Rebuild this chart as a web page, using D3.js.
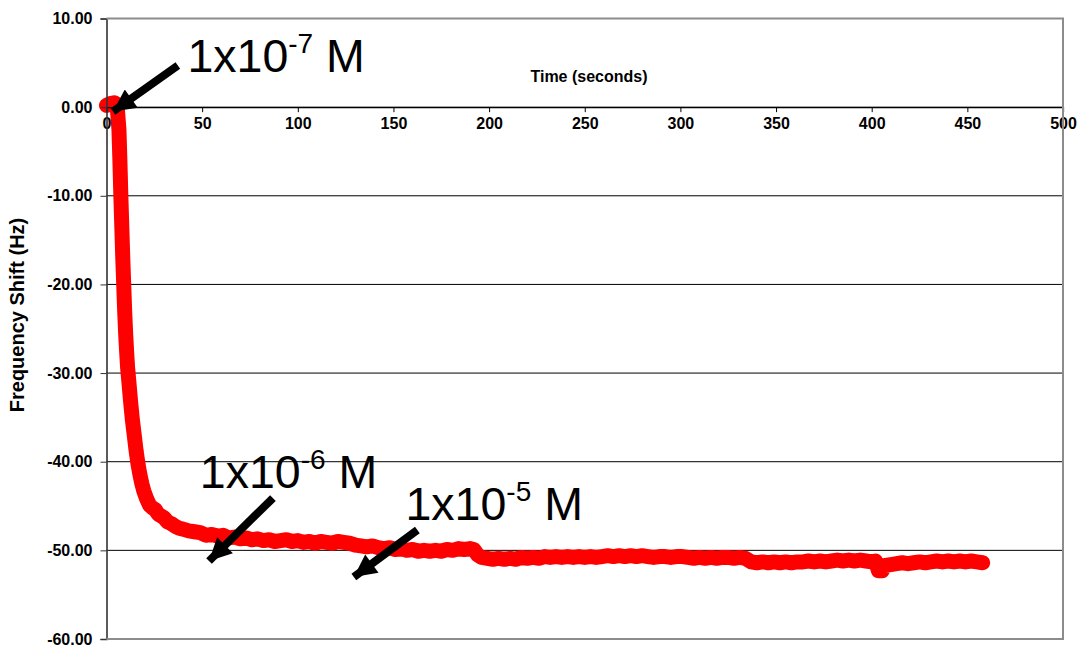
<!DOCTYPE html>
<html>
<head>
<meta charset="utf-8">
<script src="https://d3js.org/d3.v7.min.js"></script>
<style>
  html, body { margin: 0; padding: 0; background: #fff; }
  svg { display: block; font-family: "Liberation Sans", Arial, sans-serif; }
</style>
</head>
<body>
<svg id="chart" width="1079" height="646"></svg>
<script>
// ---- data ----
const timeSeconds = [
  0,2,4,5.5,6.5,7,7.5,8,8.5,9,
  9.5,10,10.5,11,11.7,12.5,13.5,14.5,15.5,16.5,
  17.5,18.5,19.5,21,22.5,24,25.5,27,28.5,30,
  32,34,36,38,40,43,46,
  49,52,55,58,61,64,67,70,73,76,
  79,82,85,88,91,94,97,100,103,106,
  109,112,115,118,121,124,127,130,133,136,
  139,142,145,148,151,154,157,160,163,166,
  169,172,175,178,181,184,187,190,192,194,
  196,199,202,205,208,211,214,217,220,223,
  226,229,232,235,238,241,244,247,250,253,
  256,259,262,265,268,271,274,277,280,283,
  286,289,292,295,298,301,304,307,310,313,
  316,319,322,325,328,331,334,337,340,343,
  346,349,352,355,358,361,364,367,370,373,
  376,379,382,385,388,391,394,397,400,402,
  403.5,405.5,407,410,413,416,419,422,425,428,
  431,434,437,440,443,446,449,452,455,458
];
const frequencyShift = [
  0.2,0.4,0.5,0.3,-2.5,-6,-10,-13.5,-17,-20,
  -23,-25.5,-27.5,-29.3,-31,-33,-35.2,-37,-38.8,-40.3,
  -41.5,-42.5,-43.3,-44.2,-44.9,-45.2,-45.4,-45.9,-46.1,-46.3,
  -46.8,-47.0,-47.3,-47.5,-47.6,-47.8,-47.9,
  -48.0,-48.3,-48.2,-48.4,-48.3,-48.6,-48.5,-48.7,-48.6,-48.8,
  -48.7,-48.9,-48.8,-49.0,-48.9,-48.8,-49.0,-48.9,-49.1,-49.0,
  -49.2,-49.0,-49.1,-49.2,-49.0,-49.1,-49.2,-49.4,-49.5,-49.6,
  -49.5,-49.7,-49.8,-49.7,-49.9,-49.8,-50.0,-49.9,-50.1,-50.0,
  -50.1,-50.0,-50.1,-49.9,-50.0,-49.8,-49.9,-49.8,-49.9,-50.5,
  -50.8,-50.9,-51.0,-50.9,-51.0,-50.9,-51.0,-50.8,-50.9,-50.8,
  -50.9,-50.7,-50.8,-50.7,-50.8,-50.7,-50.8,-50.7,-50.8,-50.7,
  -50.8,-50.7,-50.6,-50.7,-50.6,-50.7,-50.6,-50.7,-50.6,-50.7,
  -50.8,-50.7,-50.7,-50.8,-50.7,-50.7,-50.8,-50.9,-50.8,-50.9,
  -50.8,-50.9,-50.8,-50.8,-50.9,-50.8,-50.9,-51.3,-51.4,-51.3,
  -51.4,-51.3,-51.4,-51.3,-51.4,-51.3,-51.3,-51.2,-51.3,-51.2,
  -51.3,-51.2,-51.1,-51.2,-51.1,-51.2,-51.1,-51.2,-51.3,-51.2,
  -52.3,-52.3,-51.7,-51.6,-51.5,-51.4,-51.5,-51.4,-51.3,-51.4,
  -51.3,-51.2,-51.3,-51.2,-51.3,-51.2,-51.3,-51.2,-51.3,-51.4
];
const xTicks = [0,50,100,150,200,250,300,350,400,450,500];
const yTicks = [10,0,-10,-20,-30,-40,-50,-60];
const xTitle = "Time (seconds)";
const yTitle = "Frequency Shift (Hz)";
// annotations: label base, exponent, text anchor (data units), arrow tail & tip (data units)
const annLabels = ["1x10", "1x10", "1x10"];
const annExponents = ["-7", "-6", "-5"];
const annTextPos = [[42.3, 3.95], [48.8, -43], [156.3, -46.6]];
const annArrowTail = [[37.3, 4.7], [87, -44.1], [162.5, -47.7]];
const annArrowTip = [[3.4, -0.5], [53.6, -51.2], [129.3, -53.0]];

// ---- layout ----
const svg = d3.select("#chart");
const L = 106.5, R = 1063, T = 18.5, B = 639;
const x = d3.scaleLinear().domain([0, 500]).range([L, R]);
const y = d3.scaleLinear().domain([-60, 10]).range([B, T]);

// gridlines (black)
svg.append("g").selectAll("line").data(yTicks.filter(d => d !== 10 && d !== -60)).join("line")
  .attr("x1", L).attr("x2", R).attr("y1", d => y(d)).attr("y2", d => y(d))
  .attr("stroke", "#000").attr("stroke-width", 1);

// red curve
const n = Math.min(timeSeconds.length, frequencyShift.length);
const pts = d3.range(n).map(i => [timeSeconds[i], frequencyShift[i]]);
svg.append("path").datum(pts)
  .attr("d", d3.line().x(d => x(d[0])).y(d => y(d[1])))
  .attr("fill", "none").attr("stroke", "#ff0000").attr("stroke-width", 15)
  .attr("stroke-linejoin", "round").attr("stroke-linecap", "round");

// x axis at y = 0
const xAxis = d3.axisBottom(x).tickValues(xTicks).tickFormat(d3.format("d")).tickSizeOuter(0).tickSize(5).tickPadding(5);
const gx = svg.append("g").attr("transform", `translate(0,${y(0)})`).call(xAxis);
gx.select(".domain").attr("stroke", "#000").attr("stroke-width", 1.2);
gx.selectAll(".tick line").attr("stroke", "#000");
gx.selectAll(".tick text").attr("font-size", 16).attr("font-weight", "bold").attr("fill", "#000")
  .attr("font-family", "'Liberation Sans', Arial, sans-serif");

// y axis
const yAxis = d3.axisLeft(y).tickValues(yTicks).tickFormat(d3.format(".2f")).tickSizeOuter(0).tickSize(6).tickPadding(8);
const gy = svg.append("g").attr("transform", `translate(${L},0)`).call(yAxis);
gy.select(".domain").attr("stroke", "#333").attr("stroke-width", 1.6);
gy.selectAll(".tick line").attr("stroke", "#333");
gy.selectAll(".tick text").attr("font-size", 16).attr("font-weight", "bold").attr("fill", "#000")
  .attr("font-family", "'Liberation Sans', Arial, sans-serif")
  .text(d => d3.format(".2f")(d).replace("\u2212", "-"));

// border top/right/bottom (gray)
svg.append("path")
  .attr("d", `M${L},${T}H${R}V${B}H${L}`)
  .attr("fill", "none").attr("stroke", "#8c8c8c").attr("stroke-width", 2);

// titles
svg.append("text").attr("x", 589).attr("y", 82).attr("text-anchor", "middle")
  .attr("font-size", 16).attr("font-weight", "bold").text(xTitle);
svg.append("text").attr("transform", `translate(24,315) rotate(-90)`).attr("text-anchor", "middle")
  .attr("font-size", 20).attr("font-weight", "bold").text(yTitle);

// arrows
const defs = svg.append("defs");
defs.append("marker").attr("id", "ah").attr("viewBox", "0 0 10 10")
  .attr("refX", 10).attr("refY", 5).attr("markerWidth", 3.2).attr("markerHeight", 2.8)
  .attr("markerUnits", "strokeWidth").attr("orient", "auto")
  .append("path").attr("d", "M0,0L10,5L0,10Z").attr("fill", "#000");

annArrowTail.forEach((tail, i) => {
  const tip = annArrowTip[i];
  svg.append("line").attr("x1", x(tail[0])).attr("y1", y(tail[1]))
    .attr("x2", x(tip[0])).attr("y2", y(tip[1]))
    .attr("stroke", "#000").attr("stroke-width", 8).attr("marker-end", "url(#ah)");
});

// annotation labels
annLabels.forEach((lab, i) => {
  const t = svg.append("text").attr("x", x(annTextPos[i][0])).attr("y", y(annTextPos[i][1]))
    .attr("font-size", 46.5).attr("fill", "#000");
  t.append("tspan").text(lab);
  t.append("tspan").attr("font-size", 28).attr("dy", -19).text(annExponents[i]);
  t.append("tspan").attr("dy", 19).text("\u00a0M");
});
</script>
</body>
</html>
